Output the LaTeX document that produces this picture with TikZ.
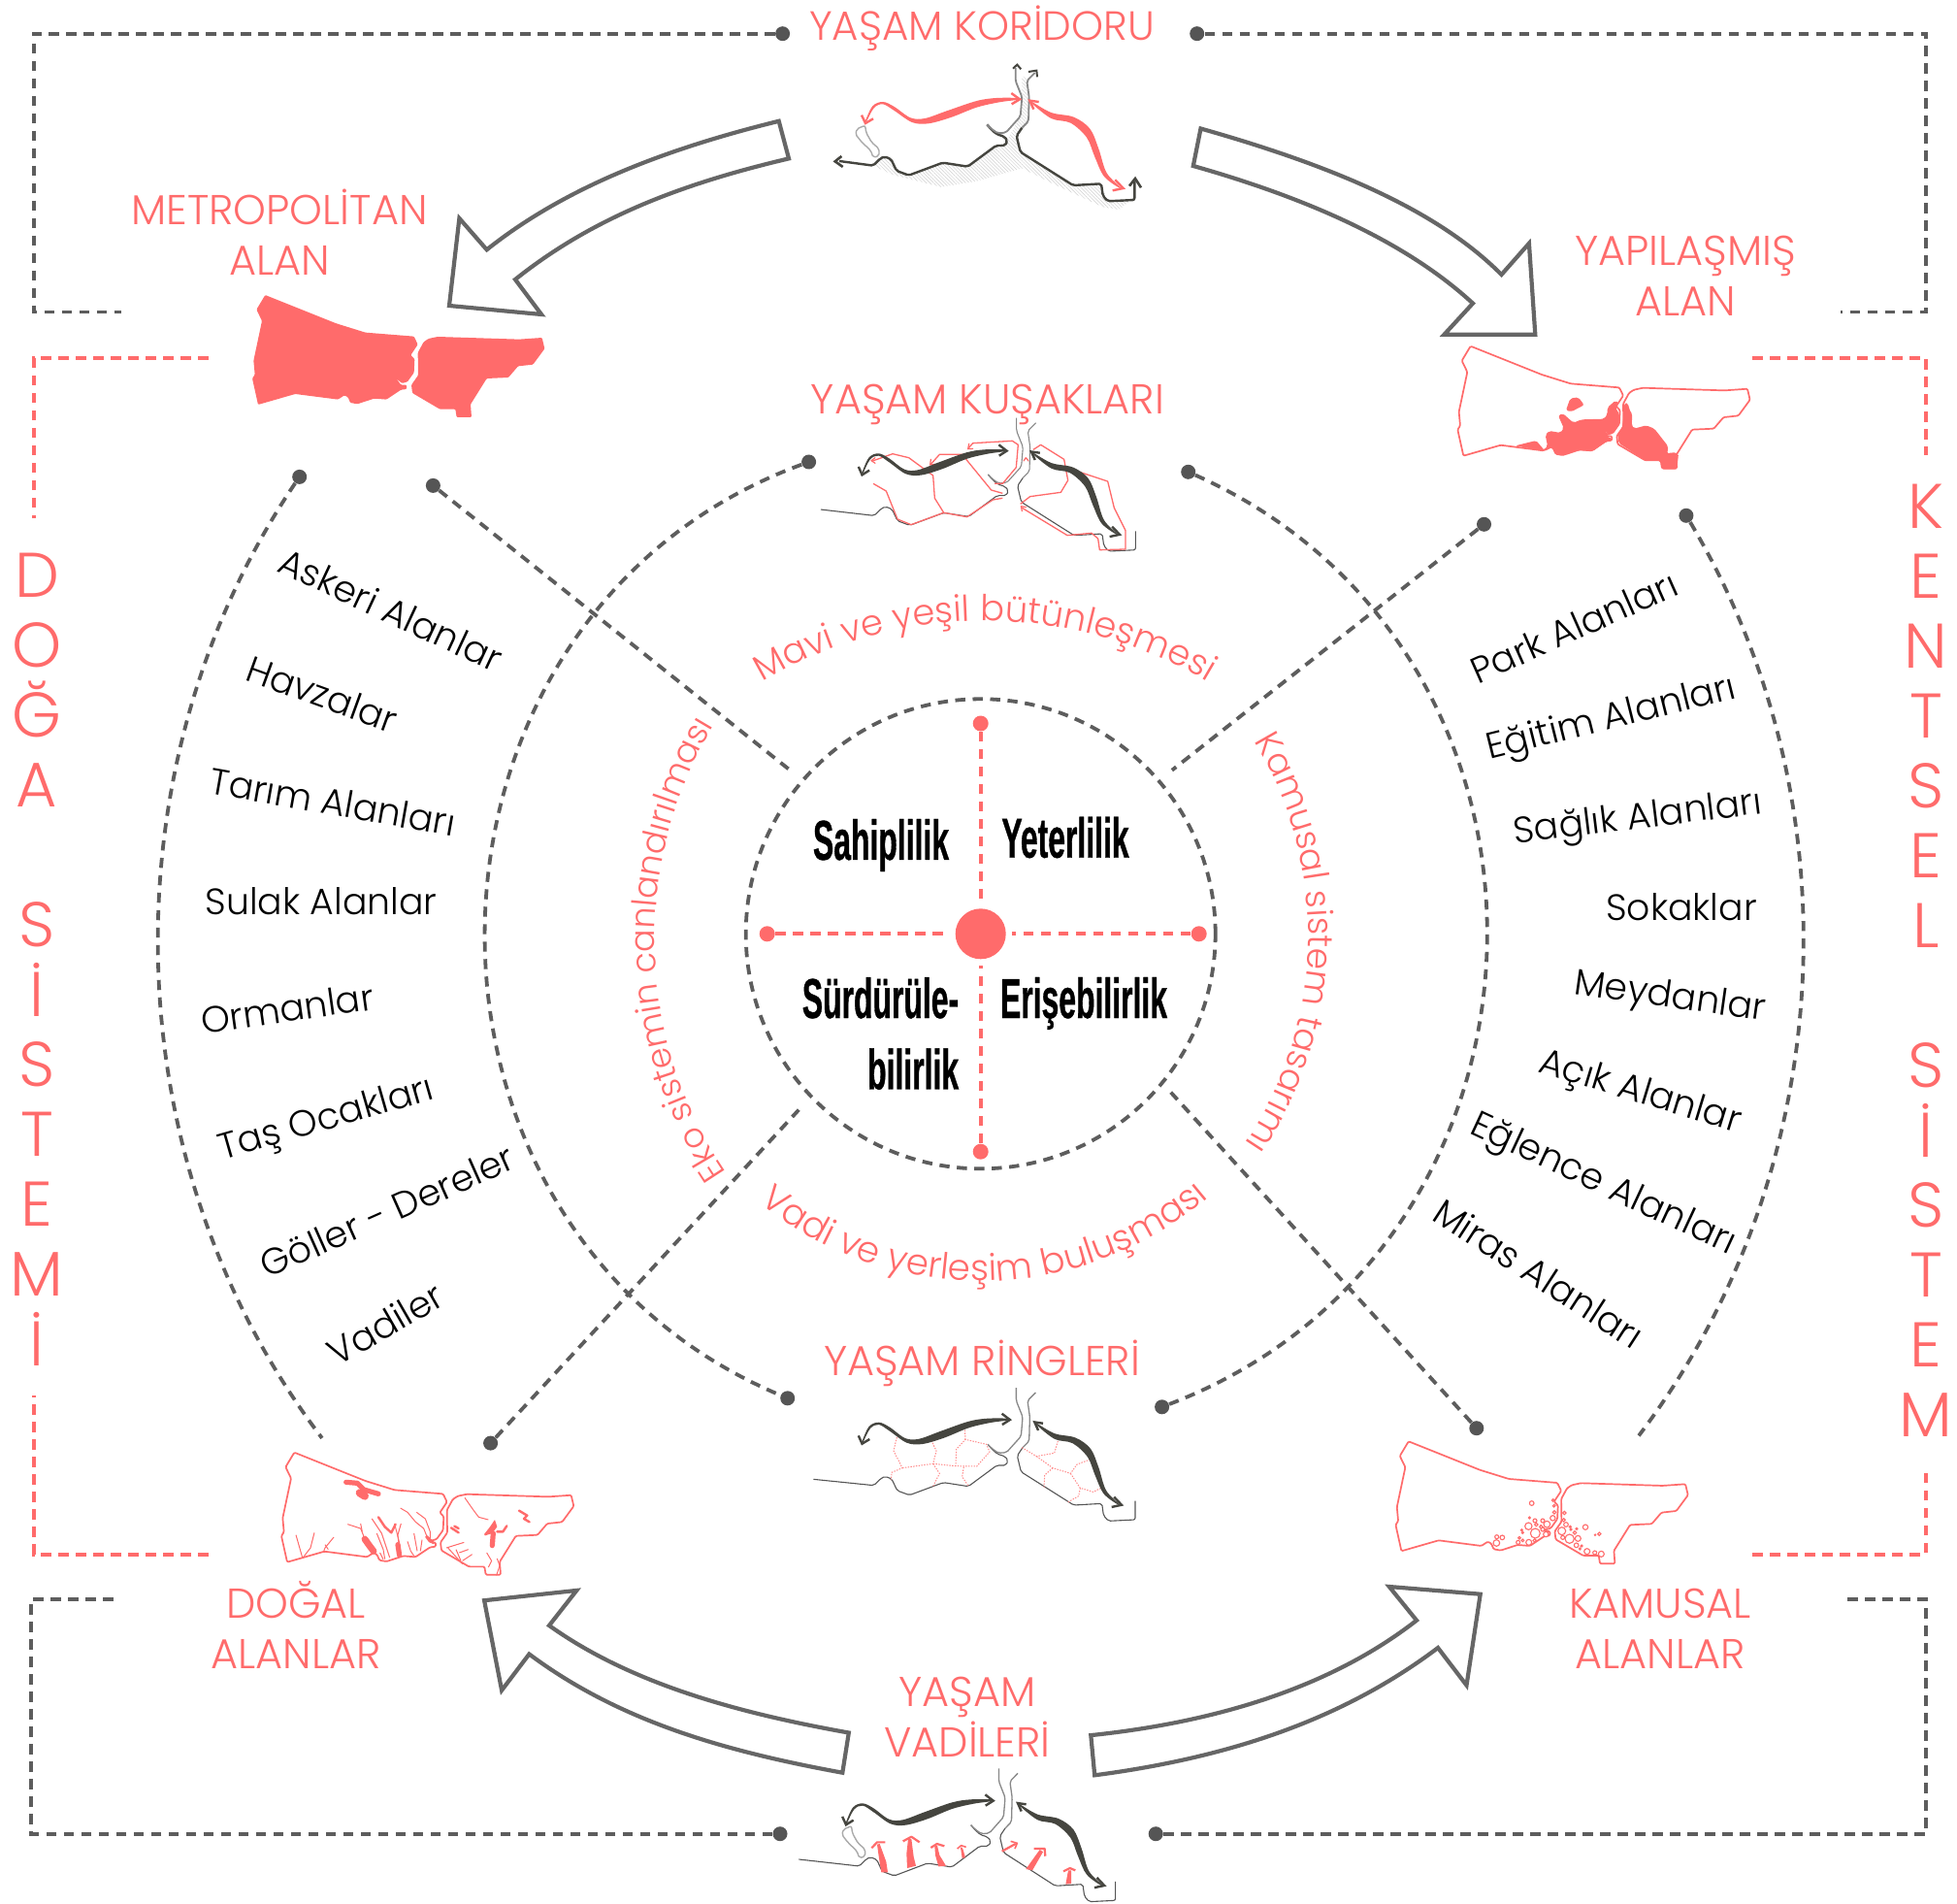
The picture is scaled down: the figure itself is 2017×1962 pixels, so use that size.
\documentclass[tikz,border=0pt]{standalone}
\usepackage{fontspec}
\usetikzlibrary{decorations.text,patterns.meta}
\setmainfont{Poppins}
\newfontfamily\lblfont{Poppins Light}
\newfontfamily\boldfont[FakeStretch=0.55,FakeBold=0.6]{Liberation Sans Bold}
\definecolor{rd}{HTML}{FF6B6B}
\definecolor{gy}{HTML}{555555}
\definecolor{dk}{HTML}{45453F}
\tikzset{
 x=0.5pt,y=-0.5pt,
 gdot/.style={circle,fill=gy,inner sep=0pt,minimum size=7.5pt},
 rdot/.style={circle,fill=rd,inner sep=0pt,minimum size=8pt},
 gdash/.style={draw=gy!95,line width=1.9pt,dash pattern=on 5.2pt off 3.8pt},
 rdash/.style={draw=rd,line width=1.9pt,dash pattern=on 5.2pt off 3.8pt},
 blockarrow/.style={draw=gy!90,line width=2.1pt,line join=miter,fill=white},
 head/.style={font=\lblfont\fontsize{21.5}{26}\selectfont,text=rd,align=center,inner sep=0pt},
 listtxt/.style={font=\lblfont\fontsize{18.9}{22}\selectfont,text=black,inner sep=0pt},
 vert/.style={font=\lblfont\fontsize{32.5}{36}\selectfont,text=rd,align=center,inner sep=0pt},
 bold/.style={font=\boldfont\fontsize{29}{36.7}\selectfont,text=black,inner sep=0pt},
 outline/.style={draw=rd,line width=0.85pt,line join=round,rounded corners=0.6pt},
 coastd/.style={draw=#1,line join=round,rounded corners=1pt},
 rthin/.style={draw=rd,line width=0.5pt,line join=round},
 rmed/.style={draw=rd,line width=1.2pt,line cap=round,line join=round},
 rthick/.style={draw=rd,line width=2.6pt,line cap=round,line join=round},
 rdots/.style={draw=rd!80,line width=0.5pt,dash pattern=on 0.7pt off 0.7pt},
 ring/.style={draw=rd,line width=0.55pt},
 atip/.style={draw=rd,line width=0.6pt,line join=round,line cap=round},
 btip/.style={draw=rd,line width=1.1pt,line join=round},
}
\newcommand{\westoutline}{(160,72) -- (133,117) -- (150,152) -- (124,275) -- (128,318) -- (120,330) -- (138,411) -- (253,378) -- (385,395) -- (405,382) -- (416,388) -- (423,405) -- (445,409) -- (497,392) -- (535,395) -- (580,365) -- (597,363) -- (597,350) -- (580,350) -- (565,330) -- (583,345) -- (600,340) -- (620,312) -- (622,270) -- (610,258) -- (632,225) -- (620,200) -- (470,188) -- (380,160) -- cycle}
\newcommand{\eastoutline}{(693,201) -- (665,207) -- (650,217) -- (632,250) -- (633,320) -- (612,350) -- (615,375) -- (700,425) -- (748,425) -- (752,450) -- (798,450) -- (795,410) -- (845,330) -- (912,327) -- (942,292) -- (988,287) -- (1024,238) -- (1016,204) -- (945,209) -- cycle}
% coast of the small maps, given in the coordinates of the first map
\newcommand{\coastA}[3]{\draw[coastd=#2,line width=#3] (#1) -- (240,512) -- (262,490) -- (275,484) -- (295,492) -- (312,528) -- (350,542) -- (455,503) -- (532,515) -- (620,450) -- (648,450) -- (655,435) -- (645,422) -- (622,415) -- (605,400) -- (592,385);}
\newcommand{\coastB}[2]{\draw[coastd=#1,line width=#2] (1048,560) -- (1048,618) -- (965,622) -- (950,605) -- (945,568) -- (858,573) -- (695,470) -- (683,420) -- (700,395);}
\newcommand{\bosph}[1]{\draw[coastd=gy!70,line width=#1] (592,385) -- (605,398) -- (625,412) -- (650,410) -- (695,360) -- (700,300) -- (680,250) -- (680,210);
 \draw[coastd=gy!70,line width=#1] (700,395) -- (720,375) -- (722,300) -- (715,250) -- (740,225);}
\newcommand{\lake}{\draw[draw=gy!50,line width=0.7pt,line join=round,rounded corners=1pt] (215,388) -- (190,398) -- (185,415) -- (205,440) -- (232,465) -- (240,487) -- (258,482) -- (258,460) -- (235,440) -- (218,410) -- cycle;}
\newcommand{\westsw}[1]{\fill[#1] plot[smooth cycle,tension=.55] coordinates {(214,378) (238,328) (270,315) (305,330) (355,364) (400,366) (470,342) (560,312) (620,303) (688,303) (690,308) (630,316) (560,332) (480,363) (410,382) (360,378) (305,342) (270,322) (242,334) (218,378)};
 \draw[draw=#1,line width=1.2pt,line join=miter] (204,356) -- (216,381) -- (240,367);
 \draw[draw=#1,line width=1.2pt,line join=miter] (667,288) -- (693,307) -- (668,322);}
\newcommand{\eastsw}[1]{\fill[#1] plot[smooth cycle,tension=.55] coordinates {(726,312) (790,348) (860,362) (910,398) (937,460) (962,535) (1010,585) (955,547) (925,485) (900,425) (850,380) (790,366) (728,318)};
 \draw[draw=#1,line width=1.2pt,line join=miter] (736,338) -- (724,311) -- (752,315);
 \draw[draw=#1,line width=1.2pt,line join=miter] (988,556) -- (1013,582) -- (980,589);}
\begin{document}
\begin{tikzpicture}
\useasboundingbox (0,0) rectangle (2017,1962);
\fill[white] (0,0) rectangle (2017,1962);
% ---- dots
\node[gdot] (t1) at (806.6,34.7) {};
\node[gdot] (t2) at (1233.7,34.7) {};
\node[gdot] (b1) at (804,1889.7) {};
\node[gdot] (b2) at (1191.2,1889.7) {};
\node[gdot] (d1) at (308.7,491.4) {};
\node[gdot] (d2) at (446.4,500.4) {};
\node[gdot] (d3) at (833.6,476) {};
\node[gdot] (d4) at (1224.7,486.3) {};
\node[gdot] (d5) at (1529.5,540.3) {};
\node[gdot] (d6) at (1737.9,531.3) {};
\node[gdot] (d7) at (505.6,1487.1) {};
\node[gdot] (d8) at (811.7,1440.8) {};
\node[gdot] (d9) at (1197.6,1449.8) {};
\node[gdot] (d10) at (1521.8,1471.7) {};
\coordinate (e1) at (331.9,1481.9);
\coordinate (e2) at (1689,1479.4);
\coordinate (i2) at (814.3,793.7);
\coordinate (i5) at (1207.9,793.7);
\coordinate (i7) at (823.3,1143.6);
\coordinate (i10) at (1206.7,1125.6);
% ---- outer frames
\coordinate (r1) at (124.8,321.6);
\coordinate (r2) at (1897.4,321.6);
\coordinate (r3) at (118.3,1647.9);
\coordinate (r4) at (1897.4,1647.9);
\draw[gdash] (t1) -- (34.7,34.7) -- (34.7,321.6) -- (r1);
\draw[gdash] (t2) -- (1984.9,34.7) -- (1984.9,321.6) -- (r2);
\draw[gdash] (b1) -- (32.2,1889.7) -- (32.2,1647.9) -- (r3);
\draw[gdash] (b2) -- (1984.9,1889.7) -- (1984.9,1647.9) -- (r4);
\coordinate (q1) at (214.8,369.2);
\coordinate (q2) at (34.7,533.9);
\coordinate (q3) at (34.7,1438.2);
\coordinate (q4) at (214.8,1601.6);
\coordinate (q5) at (1806.1,369.2);
\coordinate (q6) at (1984.9,469.5);
\coordinate (q7) at (1984.9,1518);
\coordinate (q8) at (1806.1,1601.6);
\draw[rdash] (q1) -- (34.7,369.2) -- (q2);
\draw[rdash] (q4) -- (34.7,1601.6) -- (q3);
\draw[rdash] (q5) -- (1984.9,369.2) -- (q6);
\draw[rdash] (q8) -- (1984.9,1601.6) -- (q7);
% ---- arcs
\draw[gdash] (d1) to[bend right=35.7,looseness=.92] (e1);
\draw[gdash] (d6) to[bend left=34,looseness=.92] (e2);
\draw[gdash] (d3) to[bend right=68.5,looseness=1.205] (d8);
\draw[gdash] (d4) to[bend left=67.5,looseness=1.21] (d9);
\draw[gdash] (d2) -- (i2);
\draw[gdash] (d5) -- (i5);
\draw[gdash] (d7) -- (i7);
\draw[gdash] (d10) -- (i10);
% ---- centre
\node[circle,gdash,minimum size=242pt,inner sep=0pt] (core) at (1010.7,962.3) {};
\node[circle,fill=rd,minimum size=26pt,inner sep=0pt] (hub) at (1010.7,962.3) {};
\node[rdot] (nn) at (1010.7,745.5) {};
\node[rdot] (ss) at (1010.7,1186.7) {};
\node[rdot] (ww) at (790.7,962.3) {};
\node[rdot] (ee) at (1235.7,962.3) {};
\draw[rdash,shorten >=3pt] (nn) -- (hub);
\draw[rdash,shorten >=3pt] (ss) -- (hub);
\draw[rdash,shorten >=3pt] (ww) -- (hub);
\draw[rdash,shorten >=3pt] (ee) -- (hub);
\node[bold] (c1) at (908,871) {Sahiplilik};
\node[bold] (c2) at (1098,863) {Yeterlilik};
\node[bold,align=right,anchor=east] (c3) at (988.5,1065) {Sürdürüle-\\bilirlik};
\node[bold] (c4) at (1117,1034) {Erişebilirlik};
% ---- curved texts
\tikzset{curvetext/.style 2 args={decorate,decoration={text along path,text align=center,text={|\lblfont\fontsize{#1}{20}\selectfont\color{rd}|#2}}}}
\coordinate (m1) at (768,714); \coordinate (m2) at (1262,714);
\coordinate (v1) at (778,1236); \coordinate (v2) at (1250,1230);
\coordinate (k1) at (758,1222); \coordinate (k2) at (745,733);
\coordinate (s1) at (1284,750); \coordinate (s2) at (1274,1192);
\path[curvetext={18.4}{Mavi ve yeşil bütünleşmesi}] (m1) to[bend left=33.5,looseness=.93] (m2);
\path[curvetext={18.6}{Vadi ve yerleşim buluşması}] (v1) to[bend right=40.4,looseness=.968] (v2);
\path[curvetext={17.5}{Eko sistemin canlandırılması}] (k1) to[bend left=35,looseness=.93] (k2);
\path[curvetext={18}{Kamusal sistem tasarımı}] (s1) to[bend left=35,looseness=.93] (s2);
% ---- lists
\foreach \n/\t/\px/\py/\r in {a1/Askeri Alanlar/403/628/-25,a2/Havzalar/332/715/-20,a3/Tarım Alanları/343/826/-10,a4/Sulak Alanlar/331/929/0,a5/Ormanlar/296/1039/8,a6/Taş Ocakları/337/1155/16,a7/Göller - Dereler/399/1248/24,a8/Vadiler/397/1364/30,
 b1x/Park Alanları/1622/646/24,b2x/Eğitim Alanları/1661/742/14,b3x/Sağlık Alanları/1688/845/7,b4x/Sokaklar/1733/935/0,b5x/Meydanlar/1721/1029/-8,b6x/Açık Alanlar/1690/1127/-17,b7x/Eğlence Alanları/1652/1222/-25,b8x/Miras Alanları/1586/1312/-33}
 {\node[listtxt,rotate=\r] (\n) at (\px,\py) {\t};}
% ---- headings
\node[head,font=\lblfont\fontsize{21}{26}\selectfont] (h1) at (1012,29.5) {YAŞAM KORİDORU};
\node[head] (h2) at (288,239) {METROPOLİTAN\\ALAN};
\node[head] (h3) at (1737,284.5) {YAPILAŞMIŞ\\ALAN};
\node[head] (h4) at (1018,417) {YAŞAM KUŞAKLARI};
\node[head] (h5) at (1012,1404.5) {YAŞAM RİNGLERİ};
\node[head] (h6) at (305,1674.5) {DOĞAL\\ALANLAR};
\node[head] (h7) at (1711,1678) {KAMUSAL\\ALANLAR};
\node[head] (h8) at (997,1769) {YAŞAM\\VADİLERİ};
\node[vert] (v1n) at (38,989) {D\\O\\Ğ\\A\\\mbox{}\\S\\İ\\S\\T\\E\\M\\İ};
\node[vert] (v2n) at (1985,990) {K\\E\\N\\T\\S\\E\\L\\\mbox{}\\S\\İ\\S\\T\\E\\M};
% ---- block arrows
\draw[blockarrow] (802.7,124.8) .. controls (680,155) and (580,195) .. (501.7,257.3) -- (473.4,225) -- (463,315) -- (558,324) -- (531,288) .. controls (610,225) and (700,190) .. (813,163.4) -- cycle;
\draw[blockarrow] (1237.5,132.5) .. controls (1370,170) and (1480,215) .. (1547.5,283) -- (1575.9,250.8) -- (1582.3,344.8) -- (1488.4,344.8) -- (1518,312.6) .. controls (1450,250) and (1350,205) .. (1229.8,171) -- cycle;
\draw[blockarrow] (874.8,1785.5) .. controls (760,1765) and (650,1735) .. (566,1675) -- (594.3,1638.9) -- (499.1,1649.2) -- (517.1,1741.8) -- (545.4,1704.5) .. controls (640,1775) and (750,1805) .. (868.3,1826.7) -- cycle;
\draw[blockarrow] (1124.3,1788.1) .. controls (1250,1775) and (1370,1740) .. (1460,1669.7) -- (1431.8,1635) -- (1525.7,1642.7) -- (1511.5,1736.6) -- (1482,1698) .. controls (1380,1775) and (1260,1812) .. (1128.2,1829.3) -- cycle;
% ---- METROPOLITAN map
\begin{scope}[shift={(220,280)},scale=1/3]
 \fill[rd,rounded corners=0.5pt] \westoutline;
 \fill[rd,rounded corners=0.5pt] \eastoutline;
\end{scope}
% ---- YAPILASMIS map
\begin{scope}[shift={(1462.3,332.7)},scale=1/3]
 \draw[outline] \westoutline;
 \draw[outline] \eastoutline;
\end{scope}
\begin{scope}[shift={(1480,340)},scale=1/3]
 \fill[rd,rounded corners=1pt] (415,212) -- (440,208) -- (458,232) -- (418,253) -- (402,248) -- cycle;
 \fill[rd,rounded corners=1pt] (245,358) -- (310,342) -- (335,372) -- (345,358) -- (338,325) -- (350,312) -- (385,318) -- (395,303) -- (378,265) -- (392,258) -- (425,287) -- (450,277) -- (520,275) -- (530,260) -- (530,240) -- (555,218) -- (565,225) -- (555,240) -- (568,262) -- (565,295) -- (540,325) -- (515,310) -- (525,328) -- (545,335) -- (545,343) -- (525,345) -- (485,375) -- (440,372) -- (390,388) -- (372,383) -- (362,362) -- (335,375) -- cycle;
 \fill[rd,rounded corners=1pt] (580,240) -- (585,225) -- (595,228) -- (597,245) -- (607,260) -- (605,295) -- (613,305) -- (650,295) -- (675,305) -- (718,360) -- (715,383) -- (730,378) -- (750,382) -- (745,430) -- (700,430) -- (695,405) -- (650,405) -- (565,350) -- (562,325) -- (575,305) -- (580,270) -- cycle;
\end{scope}
% ---- DOGAL map
\begin{scope}[shift={(250,1472.7)},scale=1/3]
 \draw[outline] \westoutline;
 \draw[outline] \eastoutline;
\end{scope}
\begin{scope}[shift={(280,1480)},scale=1/3]
 \draw[rthick] (230,142) -- (265,145) -- (285,165) -- (330,178);
 \draw[rthick,line width=4pt] (272,175) -- (288,185);
 \draw[rmed] (330,250) -- (350,280) -- (370,298) -- (383,272);
 \draw[rthick,line width=3.4pt] (288,318) -- (300,335) -- (315,355);
 \draw[rthick] (390,335) -- (395,368);
 \draw[rmed] (480,310) -- (500,330);
 \draw[rthin] (235,272) -- (275,285) -- (285,310);
 \draw[rthin] (275,270) -- (280,295);
 \draw[rthin] (310,255) -- (340,300) -- (365,375);
 \draw[rthin] (325,300) -- (345,350) -- (350,380);
 \draw[rthin] (335,360) -- (345,380);
 \draw[rthin] (380,270) -- (395,330) -- (400,370);
 \draw[rthin] (400,270) -- (390,305) -- (395,350);
 \draw[rthin] (420,325) -- (430,355) -- (440,370);
 \draw[rthin] (440,300) -- (450,355);
 \draw[rthin] (465,320) -- (460,355);
 \draw[rthin] (398,222) -- (420,235) -- (445,265) -- (470,285) -- (480,310);
 \draw[rthin] (448,235) -- (475,255) -- (490,295) -- (490,315);
 \draw[rthin] (75,305) -- (95,375);
 \draw[rthin] (132,298) -- (120,345) -- (97,375);
 \draw[rthin] (192,312) -- (165,345) -- (160,358);
 \draw[rthin] (165,335) -- (175,350);
 \draw[rthin] (597,190) -- (625,230) -- (640,250) -- (670,258);
 \draw[rmed] (555,283) -- (578,298);
 \draw[rmed] (565,278) -- (578,285);
 \fill[rd] (675,280) -- (690,258) -- (697,280) -- (682,300) -- (660,307) -- (657,303) -- cycle;
 \draw[rthick] (685,300) -- (682,338);
 \draw[rmed] (697,295) -- (715,295) -- (727,277);
 \draw[rmed] (765,230) -- (790,245) -- (780,255) -- (797,265);
 \draw[rthin] (540,345) -- (595,328);
 \draw[rthin] (545,345) -- (590,395);
 \draw[rthin] (570,350) -- (585,385);
 \draw[rthin] (580,360) -- (608,350);
 \draw[rthin] (590,385) -- (620,365);
 \draw[rthin] (665,360) -- (680,385) -- (670,405);
 \draw[rthin] (697,378) -- (705,400) -- (695,430);
\end{scope}
% ---- KAMUSAL map
\begin{scope}[shift={(1398.4,1461.3)},scale=1/3]
 \draw[outline] \westoutline;
 \draw[outline] \eastoutline;
\end{scope}
\begin{scope}[shift={(1420,1470)},scale=1/3]
 \foreach \cx/\cy/\cr in {476/237/7,469/282/3,486/291/6,490/303/5,466/308/11,487/330/15,510/291/6,523/302/10,541/283/8,546/265/5,545/245/4,542/228/4,505/310/5,445/320/3,448/328/3,438/344/4,448/352/4,434/358/6,467/358/9,485/352/5,368/341/6,385/343/7,367/360/10,510/318/6,520/333/8,577/267/5,575/289/5,582/303/7,595/310/3,597/318/3,569/323/12,609/328/5,615/316/3,642/311/8,572/343/6,593/347/14,619/346/9,614/367/7,630/369/3,625/378/3,647/386/9,671/390/6,691/394/9,685/332/5,672/335/2}
  {\draw[ring,fill=white] (\cx,\cy) ellipse[x radius=\cr,y radius=\cr];}
\end{scope}
% ---- KORIDOR map
\begin{scope}[shift={(820,0)},scale=1/3]
 \fill[pattern={Lines[angle=-45,distance=1.3pt,line width=.25pt]},pattern color=black!18] (240,512) -- (275,484) -- (295,492) -- (312,528) -- (350,542) -- (455,503) -- (532,515) -- (620,450) -- (655,435) -- (695,470) -- (858,573) -- (945,568) -- (965,622) -- (1035,620) -- (1000,648) -- (950,640) -- (800,570) -- (700,520) -- (560,560) -- (450,578) -- (300,540) -- cycle;
 \fill[pattern={Lines[angle=-45,distance=1.3pt,line width=.25pt]},pattern color=black!18] (700,235) -- (718,245) -- (725,300) -- (720,380) -- (683,420) -- (695,465) -- (650,440) -- (695,360) -- (700,300) -- cycle;
 \coastA{135,498}{dk}{1.2pt}
 \coastB{dk}{1.2pt}
 \bosph{0.9pt}
 \lake
 \draw[draw=dk,line width=1.3pt,line join=miter] (142,483) -- (122,499) -- (146,516);
 \draw[draw=dk,line width=1.3pt,line join=miter] (1032,575) -- (1050,552) -- (1068,580);
 \draw[draw=dk,line width=1pt,line join=miter] (672,212) -- (685,200) -- (697,214);
 \draw[draw=dk,line width=1pt,line join=miter] (720,222) -- (745,218) -- (747,238);
 \westsw{rd}
 \eastsw{rd}
\end{scope}
% ---- KUSAK map
\begin{scope}[shift={(821,360.7)},scale=1/3]
 \coastA{75,493}{gy}{0.55pt}
 \coastB{gy}{0.55pt}
 \bosph{0.55pt}
\end{scope}
\begin{scope}[shift={(820,420)},scale=1/3]
 \draw[rthin,line width=.65pt] (240,235) -- (280,258) -- (315,345) -- (357,362) -- (458,325) -- (430,280) -- (425,210) -- (350,155) -- (300,143) -- (238,165);
 \draw[rthin,line width=.65pt] (640,265) -- (605,255) -- (515,145) -- (445,145) -- (418,175);
 \draw[rthin,line width=.65pt] (458,325) -- (530,338) -- (610,285) -- (640,280);
 \draw[rthin,line width=.65pt] (615,235) -- (640,235) -- (682,185) -- (688,115) -- (670,103) -- (548,110) -- (535,125);
 \draw[rthin,line width=.65pt] (695,298) -- (725,275) -- (820,262) -- (842,225) -- (830,160) -- (758,115) -- (735,130);
 \draw[rthin,line width=.65pt] (700,310) -- (840,395) -- (915,388) -- (935,405) -- (940,440) -- (1020,438) -- (1020,380) -- (985,310) -- (965,228) -- (850,190);
 \draw[atip] (246,155) -- (234,164) -- (246,172);
 \draw[atip] (418,160) -- (416,177) -- (432,175);
 \draw[atip] (536,112) -- (533,128) -- (548,127);
 \draw[atip] (705,165) -- (712,155) -- (720,165);
 \draw[atip] (700,320) -- (697,305) -- (712,308);
\end{scope}
\begin{scope}[shift={(821.1,362.3)},xscale=.937/3,yscale=1/3] \westsw{dk} \end{scope}
\begin{scope}[shift={(834.9,367.5)},scale=.945/3] \eastsw{dk} \end{scope}
% ---- RING map
\begin{scope}[shift={(820.7,1360)},scale=1/3]
 \coastA{53,493}{gy}{0.55pt}
 \coastB{gy}{0.55pt}
 \bosph{0.65pt}
\end{scope}
\begin{scope}[shift={(820,1440)},scale=1/3]
 \draw[rdots] (315,115) -- (303,165) -- (330,218) -- (297,232) -- (295,255);
 \draw[rdots] (420,133) -- (435,165) -- (425,205) -- (330,218);
 \draw[rdots] (425,205) -- (445,235) -- (425,275);
 \draw[rdots] (425,205) -- (495,212) -- (560,213) -- (600,168) -- (590,145) -- (525,130) -- (497,160) -- (495,212);
 \draw[rdots] (525,130) -- (523,95);
 \draw[rdots] (520,215) -- (515,245) -- (535,275);
 \draw[rdots] (700,155) -- (745,182) -- (800,172) -- (813,128);
 \draw[rdots] (745,182) -- (795,218) -- (850,235) -- (870,207) -- (915,190);
 \draw[rdots] (795,218) -- (770,240) -- (768,280);
 \draw[rdots] (850,235) -- (880,280) -- (920,292) -- (945,280);
 \draw[rdots] (880,280) -- (875,305) -- (840,325);
\end{scope}
\begin{scope}[shift={(819.6,1360.7)},xscale=.958/3,yscale=1/3] \westsw{dk} \end{scope}
\begin{scope}[shift={(841.9,1367.6)},xscale=.93/3,yscale=.944/3] \eastsw{dk} \end{scope}
% ---- VADI map
\begin{scope}[shift={(807.3,1752.3)},xscale=.98/3,yscale=1/3]
 \coastA{49,491}{gy}{0.55pt}
 \coastB{gy}{0.55pt}
 \bosph{0.65pt}
 \lake
\end{scope}
\begin{scope}[shift={(800,1840)},scale=1/3]
 \fill[rd] (325,268) -- (345,268) -- (340,235) -- (320,180) -- (312,182) -- (318,225) -- cycle;
 \draw[btip] (295,193) -- (312,175) -- (337,175);
 \fill[rd] (405,255) -- (432,248) -- (425,220) -- (418,165) -- (408,165) -- (403,210) -- cycle;
 \draw[btip] (392,172) -- (418,158) -- (443,175);
 \fill[rd] (502,250) -- (525,248) -- (505,215) -- (498,185) -- (490,187) -- (492,215) -- cycle;
 \draw[btip] (478,192) -- (497,180) -- (520,187);
 \fill[rd] (575,225) -- (585,222) -- (577,195) -- (573,190) -- (570,192) -- cycle;
 \draw[btip,line width=.8pt] (560,195) -- (572,185) -- (587,190);
 \draw[btip] (698,203) -- (740,180);
 \draw[btip,line width=.8pt] (725,172) -- (745,178) -- (738,195);
 \fill[rd] (772,258) -- (792,262) -- (825,205) -- (815,198) -- cycle;
 \draw[btip] (797,195) -- (830,195) -- (832,218);
 \fill[rd] (895,305) -- (912,303) -- (912,262) -- (903,262) -- cycle;
 \draw[btip] (888,265) -- (908,255) -- (925,262);
\end{scope}
\begin{scope}[shift={(803.3,1753.3)},xscale=.954/3,yscale=1/3] \westsw{dk} \end{scope}
\begin{scope}[shift={(825.5,1760.6)},xscale=.926/3,yscale=.94/3] \eastsw{dk} \end{scope}
\end{tikzpicture}
\end{document}
